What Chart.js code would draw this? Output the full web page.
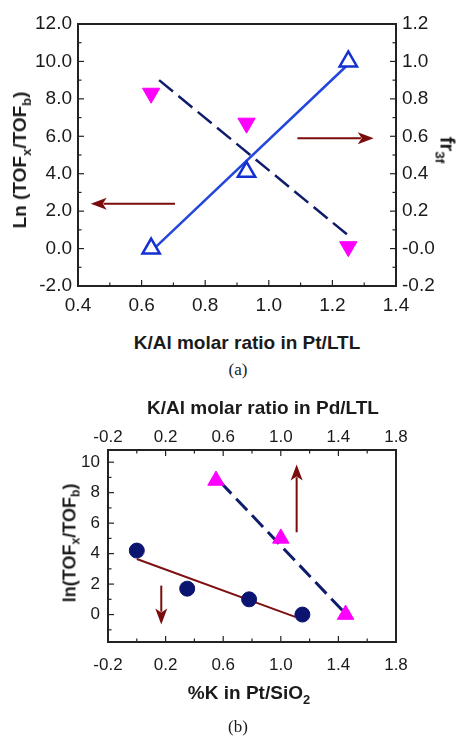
<!DOCTYPE html>
<html>
<head>
<meta charset="utf-8">
<script src="https://cdn.jsdelivr.net/npm/chart.js@4.4.1/dist/chart.umd.min.js"></script>
<style>
  body { margin: 0; background: #fff; width: 462px; height: 736px; position: relative; overflow: hidden;
         font-family: "Liberation Sans", Arial, sans-serif; color: #1a1a1a; }
  canvas { position: absolute; left: 0; }
  .t { position: absolute; white-space: nowrap; font-weight: bold; font-size: 19px; transform: translate(-50%, -50%); }
  .t sub { font-size: 68%; vertical-align: -0.35em; line-height: 0; }
  .up { transform: translate(-50%, -50%) rotate(-90deg); }
  .down { transform: translate(-50%, -50%) rotate(90deg); }
  .cap { position: absolute; font-family: "Liberation Serif", "Times New Roman", serif; font-size: 17px; transform: translate(-50%, -50%); }
</style>
</head>
<body>
<canvas id="chartA" width="462" height="330" style="top:0"></canvas>
<canvas id="chartB" width="462" height="310" style="top:380px"></canvas>

<div class="t up" style="left:20px;top:160px">Ln (TOF<sub>x</sub>/TOF<sub>b</sub>)</div>
<div class="t down" style="left:447px;top:150px;font-size:20px">fr<sub>3f</sub></div>
<div class="t" style="left:247px;top:343px">K/Al molar ratio in Pt/LTL</div>
<div class="cap" style="left:238px;top:370px">(a)</div>

<div class="t" style="left:263px;top:408px">K/Al molar ratio in Pd/LTL</div>
<div class="t" style="left:249px;top:693px">%K in Pt/SiO<sub>2</sub></div>
<div class="t up" style="left:70px;top:543px;font-size:18px">ln(TOF<sub>x</sub>/TOF<sub>b</sub>)</div>
<div class="cap" style="left:238px;top:727px">(b)</div>

<script>
// (a) Pt/LTL
const kAlPt = [0.63, 0.93, 1.25];
const lnTofPt = [0.0, 4.1, 10.0];
const fr3f = [0.83, 0.67, 0.01];
const lnFitX = [0.63, 1.25];
const lnFitY = [-0.15, 9.85];
const frFitX = [0.655, 1.25];
const frFitY = [0.90, 0.07];

// (b) Pt/SiO2 (bottom axis) and Pd/LTL (top axis)
const kPtSiO2 = [0.0, 0.35, 0.78, 1.15];
const lnTofSiO2 = [4.2, 1.7, 1.0, 0.0];
const kAlPd = [0.55, 1.0, 1.45];
const lnTofPd = [8.8, 5.0, 0.0];
const sio2FitX = [0.0, 1.10];
const sio2FitY = [3.65, -0.15];
const pdFitX = [0.58, 1.43];
const pdFitY = [8.7, 0.25];

// tick labels
const aXTicks = [0.4, 0.6, 0.8, 1.0, 1.2, 1.4];
const aYTicks = [-2, 0, 2, 4, 6, 8, 10, 12];
const aY1Ticks = [-0.2, 0, 0.2, 0.4, 0.6, 0.8, 1.0, 1.2];
const bXTicks = [-0.2, 0.2, 0.6, 1.0, 1.4, 1.8];
const bYTicks = [0, 2, 4, 6, 8, 10];

// arrows, in axis units
const arrowsA = [
  { x: [1.09, 1.33], y: [5.9, 5.9] },
  { x: [0.705, 0.44], y: [2.4, 2.4] }
];
const arrowsB = [
  { x: [1.11, 1.11], y: [5.4, 9.85] },
  { x: [0.17, 0.17], y: [1.9, -0.65] }
];

const ARROW = "#7b0c0c";
const FONT = '"Liberation Sans", Arial, sans-serif';

function pts(xs, ys) {
  return xs.map((x, i) => ({ x: x, y: ys[i] }));
}

function fixedTicks(list) {
  return scale => { scale.ticks = list.map(v => ({ value: v })); };
}

function axis(pos, min, max, list, size, pad, fmt, fit) {
  return {
    type: "linear",
    position: pos,
    min: min,
    max: max,
    afterBuildTicks: fixedTicks(list),
    afterFit: fit,
    grid: { display: false, drawTicks: false },
    border: { display: false },
    ticks: {
      font: { family: FONT, size: size },
      color: "#1a1a1a",
      padding: pad,
      autoSkip: false,
      maxRotation: 0,
      callback: fmt
    }
  };
}

// frame, inward ticks and arrows
const decorations = {
  id: "decorations",
  afterDatasetsDraw(chart, args, opts) {
    const ctx = chart.ctx;
    const a = chart.chartArea;
    ctx.save();
    ctx.strokeStyle = "#222";
    ctx.lineWidth = 1.2;
    (opts.ticks || []).forEach(ax => {
      const s = chart.scales[ax.id];
      const start = Math.ceil(s.min / ax.minor - 1e-6);
      const end = Math.floor(s.max / ax.minor + 1e-6);
      for (let i = start; i <= end; i++) {
        const v = i * ax.minor;
        const len = ax.major.some(m => Math.abs(m - v) < 1e-6) ? 6 : 3.5;
        const p = s.getPixelForValue(v);
        ctx.beginPath();
        if (ax.side === "left") { ctx.moveTo(a.left, p); ctx.lineTo(a.left + len, p); }
        if (ax.side === "right") { ctx.moveTo(a.right, p); ctx.lineTo(a.right - len, p); }
        if (ax.side === "bottom") { ctx.moveTo(p, a.bottom); ctx.lineTo(p, a.bottom - len); }
        if (ax.side === "top") { ctx.moveTo(p, a.top); ctx.lineTo(p, a.top + len); }
        ctx.stroke();
      }
    });
    ctx.lineWidth = 2;
    ctx.strokeRect(a.left, a.top, a.right - a.left, a.bottom - a.top);

    const xs = chart.scales[opts.arrowX];
    const ys = chart.scales[opts.arrowY];
    (opts.arrows || []).forEach(ar => {
      const x0 = xs.getPixelForValue(ar.x[0]), y0 = ys.getPixelForValue(ar.y[0]);
      const x1 = xs.getPixelForValue(ar.x[1]), y1 = ys.getPixelForValue(ar.y[1]);
      const ang = Math.atan2(y1 - y0, x1 - x0);
      const head = 16, half = 6;
      ctx.strokeStyle = ARROW;
      ctx.fillStyle = ARROW;
      ctx.lineWidth = 2;
      ctx.beginPath();
      ctx.moveTo(x0, y0);
      ctx.lineTo(x1 - Math.cos(ang) * head * 0.8, y1 - Math.sin(ang) * head * 0.8);
      ctx.stroke();
      ctx.beginPath();
      ctx.moveTo(x1, y1);
      ctx.lineTo(x1 - Math.cos(ang) * head - Math.sin(ang) * half, y1 - Math.sin(ang) * head + Math.cos(ang) * half);
      ctx.lineTo(x1 - Math.cos(ang) * head * 0.75, y1 - Math.sin(ang) * head * 0.75);
      ctx.lineTo(x1 - Math.cos(ang) * head + Math.sin(ang) * half, y1 - Math.sin(ang) * head - Math.cos(ang) * half);
      ctx.closePath();
      ctx.fill();
    });
    ctx.restore();
  }
};

const one = v => v.toFixed(1);

new Chart(document.getElementById("chartA"), {
  type: "scatter",
  data: {
    datasets: [
      { data: pts(kAlPt, lnTofPt), yAxisID: "y", order: 0, pointStyle: "triangle", pointRadius: 10,
        borderColor: "#1430d0", backgroundColor: "#fff", borderWidth: 2.5 },
      { data: pts(kAlPt, fr3f), yAxisID: "y1", order: 1, pointStyle: "triangle", rotation: 180, pointRadius: 10,
        borderColor: "#ff00ff", backgroundColor: "#ff00ff", borderWidth: 1 },
      { data: pts(lnFitX, lnFitY), yAxisID: "y", order: 2, showLine: true, pointRadius: 0,
        borderColor: "#2346dc", borderWidth: 2.5 },
      { data: pts(frFitX, frFitY), yAxisID: "y1", order: 3, showLine: true, pointRadius: 0,
        borderColor: "#0f1c6b", borderWidth: 2.5, borderDash: [18, 7] }
    ]
  },
  options: {
    responsive: false,
    animation: false,
    layout: { padding: { top: 24 } },
    plugins: {
      legend: { display: false },
      tooltip: { enabled: false },
      decorations: {
        ticks: [
          { id: "y", side: "left", major: aYTicks, minor: 1 },
          { id: "y1", side: "right", major: aY1Ticks, minor: 0.1 },
          { id: "x", side: "bottom", major: aXTicks, minor: 0.1 }
        ],
        arrows: arrowsA, arrowX: "x", arrowY: "y"
      }
    },
    scales: {
      x: axis("bottom", 0.4, 1.4, aXTicks, 19, 8, one, s => { s.height = 44; }),
      y: axis("left", -2, 12, aYTicks, 19, 6, one, s => { s.width = 78; }),
      y1: axis("right", -0.2, 1.2, aY1Ticks, 19, 6, v => Math.abs(v) < 1e-9 ? "-0.0" : v.toFixed(1), s => { s.width = 66; })
    }
  },
  plugins: [decorations]
});

new Chart(document.getElementById("chartB"), {
  type: "scatter",
  data: {
    datasets: [
      { data: pts(kPtSiO2, lnTofSiO2), xAxisID: "x", order: 0, pointStyle: "circle", pointRadius: 7.5,
        borderColor: "#0c1471", backgroundColor: "#0c1471", borderWidth: 1 },
      { data: pts(kAlPd, lnTofPd), xAxisID: "x2", order: 1, pointStyle: "triangle", pointRadius: 9.5,
        borderColor: "#ff00ff", backgroundColor: "#ff00ff", borderWidth: 1 },
      { data: pts(sio2FitX, sio2FitY), xAxisID: "x", order: 2, showLine: true, pointRadius: 0,
        borderColor: "#7d1010", borderWidth: 2 },
      { data: pts(pdFitX, pdFitY), xAxisID: "x2", order: 3, showLine: true, pointRadius: 0,
        borderColor: "#0f1c6b", borderWidth: 3, borderDash: [16, 7] }
    ]
  },
  options: {
    responsive: false,
    animation: false,
    layout: { padding: { right: 66 } },
    plugins: {
      legend: { display: false },
      tooltip: { enabled: false },
      decorations: {
        ticks: [
          { id: "y", side: "left", major: bYTicks, minor: 1 },
          { id: "x", side: "bottom", major: bXTicks, minor: 0.2 },
          { id: "x2", side: "top", major: bXTicks, minor: 0.2 }
        ],
        arrows: arrowsB, arrowX: "x", arrowY: "y"
      }
    },
    scales: {
      x: axis("bottom", -0.2, 1.8, bXTicks, 17, 13, one, s => { s.height = 48; }),
      x2: axis("top", -0.2, 1.8, bXTicks, 17, 2, one, s => { s.height = 70; }),
      y: axis("left", -1.8, 10.8, bYTicks, 17, 8, v => String(v), s => { s.width = 108; })
    }
  },
  plugins: [decorations]
});
</script>
</body>
</html>
